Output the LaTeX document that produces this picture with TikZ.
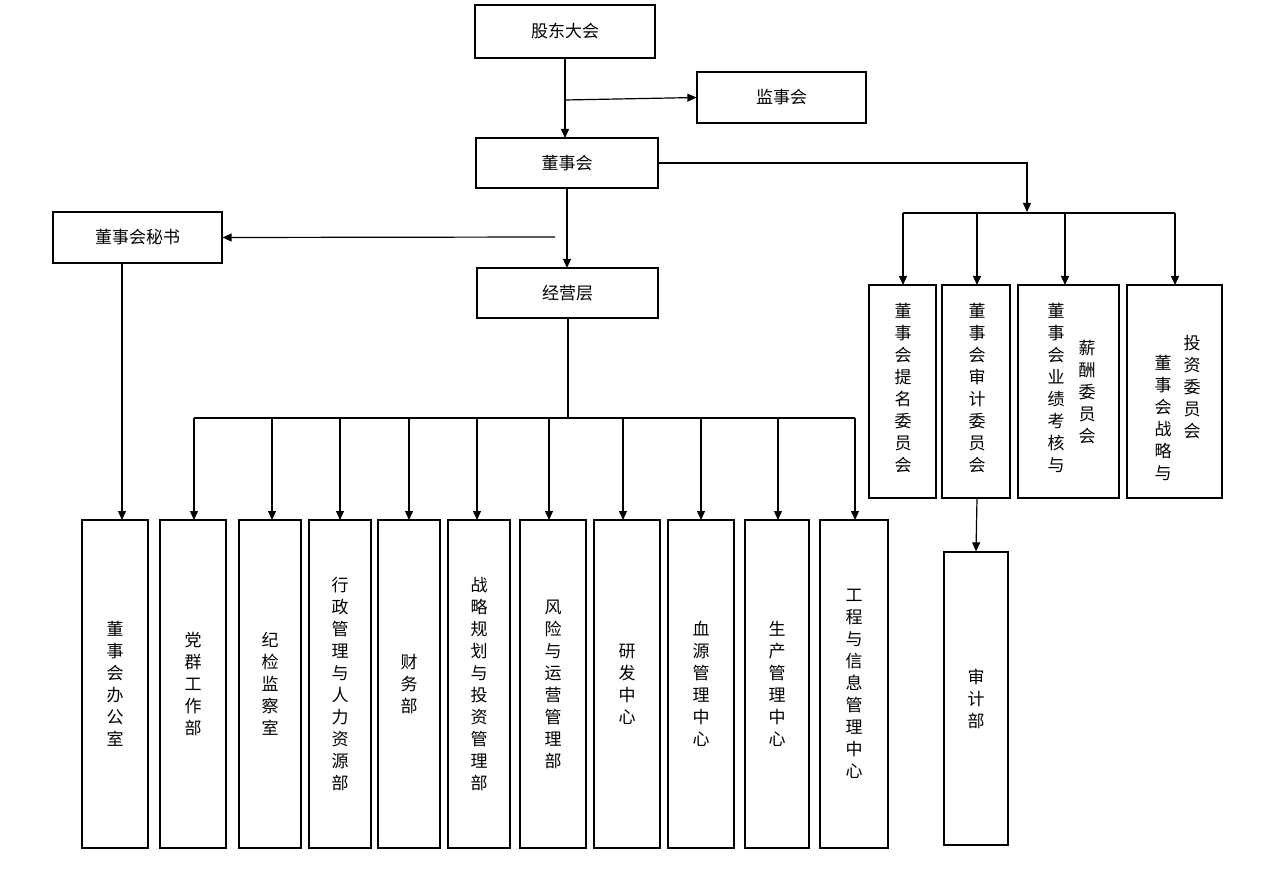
\documentclass[tikz,border=0pt]{standalone}
\usepackage{fontspec}
\setmainfont{Noto Sans CJK SC}
\usetikzlibrary{arrows.meta}
\begin{document}
\begin{tikzpicture}[x=1pt,y=-1pt,
 box/.style={draw,line width=1.2pt,inner sep=0},
 t/.style={font=\fontsize{17}{22}\selectfont,align=center,inner sep=0},
 ar/.style={line width=1.2pt,-{Triangle[length=9pt,width=8pt]}},
 ln/.style={line width=1.2pt}]
\useasboundingbox (0,0) rectangle (1274,874);
\newcommand\bx[6]{\node[box,minimum width=#3-#2,minimum height=#5-#4] (#1) at ({(#2+#3)/2},{(#4+#5)/2}) {};\node[t] at (#1) {#6};}
\bx{gd}{475}{655}{5}{58}{股东大会}
\bx{js}{697}{866}{72}{123}{监事会}
\bx{ds}{476}{658}{138}{188}{董事会}
\bx{ms}{53}{222}{212}{263}{董事会秘书}
\bx{jy}{477}{658}{268}{318}{经营层}
\bx{c1}{869}{936}{285}{498}{}
\bx{c2}{942}{1010}{285}{498}{}
\bx{c3}{1018}{1119}{285}{498}{}
\bx{c4}{1127}{1222}{285}{498}{}
\node[t,anchor=north] at (903,303) {董\\事\\会\\提\\名\\委\\员\\会};
\node[t,anchor=north] at (977,303) {董\\事\\会\\审\\计\\委\\员\\会};
\node[t,anchor=north] at (1056,303) {董\\事\\会\\业\\绩\\考\\核\\与};
\node[t,anchor=north] at (1087,340) {薪\\酬\\委\\员\\会};
\node[t,anchor=north] at (1163,355) {董\\事\\会\\战\\略\\与};
\node[t,anchor=north] at (1192,335) {投\\资\\委\\员\\会};
\bx{sj}{944}{1008}{552}{845}{审\\计\\部}
\bx{b0}{82}{148}{520}{848}{董\\事\\会\\办\\公\\室}
\bx{b1}{160}{226}{520}{848}{党\\群\\工\\作\\部}
\bx{b2}{239}{301}{520}{848}{纪\\检\\监\\察\\室}
\bx{b3}{309}{371}{520}{848}{行\\政\\管\\理\\与\\人\\力\\资\\源\\部}
\bx{b4}{378}{440}{520}{848}{财\\务\\部}
\bx{b5}{448}{510}{520}{848}{战\\略\\规\\划\\与\\投\\资\\管\\理\\部}
\bx{b6}{520}{586}{520}{848}{风\\险\\与\\运\\营\\管\\理\\部}
\bx{b7}{594}{660}{520}{848}{研\\发\\中\\心}
\bx{b8}{668}{734}{520}{848}{血\\源\\管\\理\\中\\心}
\bx{b9}{745}{809}{520}{848}{生\\产\\管\\理\\中\\心}
\bx{b10}{820}{888}{520}{848}{工\\程\\与\\信\\息\\管\\理\\中\\心}
% top
\draw[ar] (565,58) -- (565,138);
\coordinate (p1) at (565,100);
\draw[ar] (p1) -- (js.west);
\draw[ar] (567,188) -- (567,268);
\coordinate (p2) at (555,237);
\draw[ar] (p2) -- (ms.east);
\draw[ar] (122,263) -- (122,520);
% committees
\coordinate (q1) at (1027,163);
\draw[ar] (ds.east) -- (q1) -- (1027,212);
\draw[ln] (903,213) -- (1175,213);
\foreach \x in {903,977,1065,1175} \draw[ar] (\x,213) -- (\x,285);
\draw[ar] (977,498) -- (sj.north);
% operations
\draw[ln] (568,318) -- (568,418);
\draw[ln] (194,418) -- (855,418);
\foreach \x in {194,272,340,409,477,549,623,701,778,855} \draw[ar] (\x,418) -- (\x,520);
\end{tikzpicture}
\end{document}
